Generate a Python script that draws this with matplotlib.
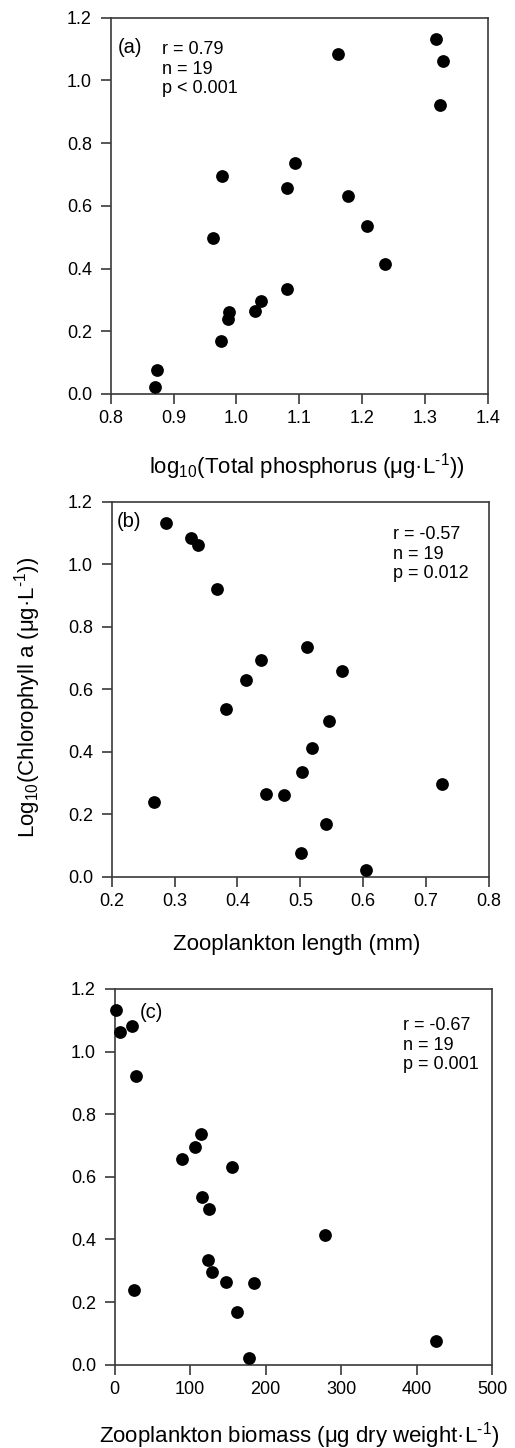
import numpy as np
import matplotlib
matplotlib.use("Agg")
import matplotlib.pyplot as plt

plt.rcParams['font.family'] = ['Liberation Sans', 'DejaVu Sans']
plt.rcParams['mathtext.fontset'] = 'custom'
plt.rcParams['mathtext.rm'] = 'Liberation Sans'
plt.rcParams['mathtext.default'] = 'regular'

# log10 chlorophyll a, one value per lake (same in all three panels)
chla = [1.132, 1.062, 0.921, 1.083, 0.736, 0.695, 0.657, 0.631, 0.537, 0.497,
        0.413, 0.334, 0.296, 0.264, 0.262, 0.238, 0.168, 0.077, 0.022]
log_tp = [1.318, 1.329, 1.324, 1.161, 1.094, 0.977, 1.081, 1.178, 1.208, 0.963,
          1.237, 1.081, 1.039, 1.029, 0.988, 0.986, 0.975, 0.873, 0.871]
zoo_length = [0.286, 0.338, 0.367, 0.326, 0.511, 0.438, 0.567, 0.414, 0.381, 0.546,
              0.518, 0.503, 0.726, 0.445, 0.474, 0.267, 0.541, 0.501, 0.605]
zoo_biomass = [2, 6.6, 27.8, 23.4, 114, 106, 89, 155, 116, 125,
               279, 123, 129, 148, 185, 25, 162, 426, 178]

panel_tags = ['(a)', '(b)', '(c)']
stats = ['r = 0.79\nn = 19\np < 0.001',
         'r = -0.57\nn = 19\np = 0.012',
         'r = -0.67\nn = 19\np = 0.001']
# short hyphen in the superscript, like the original
inv = '$^{\u2010' + '1}$'
xlabels = ['log$_{10}$(Total phosphorus (μg·L' + inv + '))',
           'Zooplankton length (mm)',
           'Zooplankton biomass (μg dry weight·L' + inv + ')']
ylabel = 'Log$_{10}$(Chlorophyll a (μg·L' + inv + '))'
xticks = [np.arange(0.8, 1.41, 0.1), np.arange(0.2, 0.81, 0.1), np.arange(0, 501, 100)]
xfmt = ['%.1f', '%.1f', '%.0f']
yticks = np.arange(0, 1.21, 0.2)

W, H = 515, 1448
fig = plt.figure(figsize=(W / 100, H / 100), dpi=100)

# axes boxes in pixels: left, top, right, bottom
boxes = [(110.7, 17.7, 487.7, 394.0),
         (111.7, 501.7, 489.0, 876.7),
         (114.7, 989.0, 492.0, 1364.7)]
tag_pos = [(0.0175, 0.945), (0.013, 0.972), (0.067, 0.964)]
stat_pos = [(0.137, 0.938), (0.746, 0.935), (0.763, 0.925)]
xlab_pos = [(0.52, -0.152), (0.489, -0.152), (0.49, -0.147)]
xs = [log_tp, zoo_length, zoo_biomass]

spine_col = '#3a3a3a'
axes = []
for i in range(3):
    l, t, r, b = boxes[i]
    ax = fig.add_axes([l / W, 1 - b / H, (r - l) / W, (b - t) / H])
    axes.append(ax)
    ax.plot(xs[i], chla, 'o', color='black', markersize=9.2, markeredgewidth=0,
            clip_on=False, zorder=3)
    ax.set_xlim(xticks[i][0], xticks[i][-1])
    ax.set_ylim(0, 1.2)
    ax.set_xticks(xticks[i])
    ax.set_xticklabels([xfmt[i] % v for v in xticks[i]])
    ax.set_yticks(yticks)
    ax.set_yticklabels(['%.1f' % v for v in yticks])
    for s in ax.spines.values():
        s.set_color(spine_col)
        s.set_linewidth(1.2)
    ax.tick_params(axis='both', direction='out', length=7, width=1.2,
                   color=spine_col, labelsize=13, labelcolor='black')
    ax.tick_params(axis='x', pad=4.5)
    ax.tick_params(axis='y', pad=6.5)
    ax.text(tag_pos[i][0], tag_pos[i][1], panel_tags[i], transform=ax.transAxes,
            fontsize=14.5, va='top', ha='left')
    ax.text(stat_pos[i][0], stat_pos[i][1], stats[i], transform=ax.transAxes,
            fontsize=13, va='top', ha='left', linespacing=1.2)
    ax.set_xlabel(xlabels[i], fontsize=16)
    ax.xaxis.set_label_coords(xlab_pos[i][0], xlab_pos[i][1])

axes[1].set_ylabel(ylabel, fontsize=16)
axes[1].yaxis.set_label_coords(-0.182, 0.478)

fig.savefig('out.png', dpi=100)
